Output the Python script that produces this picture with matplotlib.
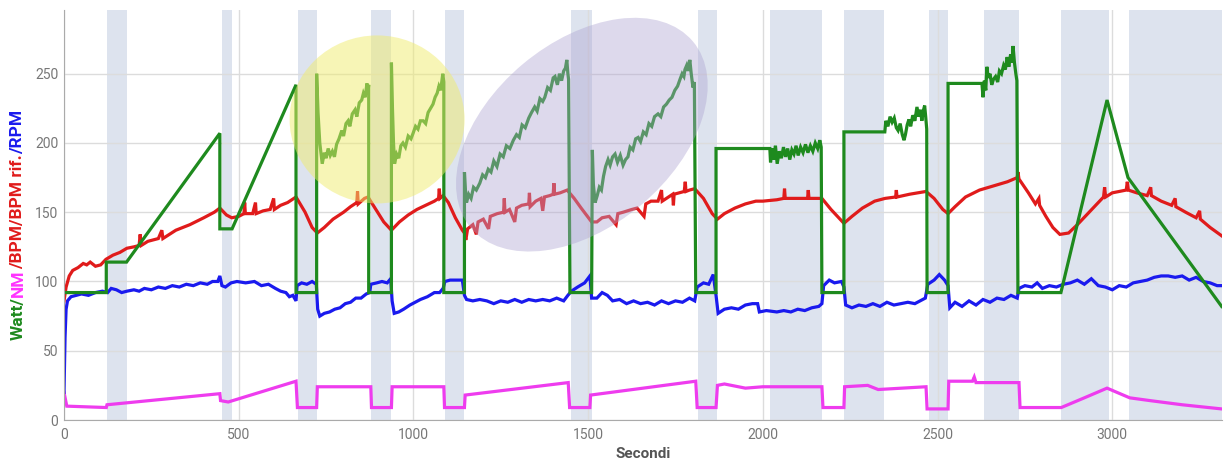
import matplotlib.pyplot as plt
from matplotlib.patches import Ellipse
from matplotlib.transforms import IdentityTransform

# shaded intervals (seconds)
BAND_START = [123, 452, 670, 880, 1089, 1450, 1814, 2020, 2232, 2476, 2633, 2854, 3049]
BAND_END = [180, 481, 725, 937, 1146, 1510, 1868, 2169, 2347, 2530, 2734, 2991, 3320]

# (seconds, value)
WATT = [
    (0, 92), (121, 92), (121, 114), (179, 114), (446, 207), (446, 138), (481, 138),
    (664, 242), (664, 92), (723, 92),
    (723, 250), (727, 222), (732, 200), (739, 185), (745, 193), (750, 189), (756, 196),
    (762, 191), (768, 194), (774, 190), (780, 199), (787, 203), (795, 209), (800, 205),
    (807, 214), (813, 216), (818, 212), (825, 221), (833, 224), (838, 219), (845, 229),
    (852, 231), (857, 236), (862, 233), (867, 243), (870, 237), (872, 242), (872, 92), (937, 92),
    (937, 258), (940, 225), (943, 200), (946, 185), (952, 192), (958, 189), (964, 198),
    (970, 200), (977, 197), (985, 205), (993, 203), (999, 207), (1006, 212), (1013, 210),
    (1020, 216), (1028, 216), (1035, 214), (1042, 222), (1049, 225), (1056, 228), (1062, 233),
    (1068, 236), (1073, 241), (1078, 238), (1084, 250), (1087, 244), (1087, 92), (1146, 92),
    (1146, 179), (1149, 165), (1152, 157), (1158, 163), (1165, 160), (1172, 168), (1180, 166),
    (1190, 171), (1198, 177), (1206, 175), (1214, 181), (1222, 179), (1230, 187), (1239, 183),
    (1248, 192), (1257, 190), (1266, 198), (1276, 196), (1286, 202), (1295, 206), (1303, 204),
    (1311, 213), (1320, 211), (1330, 218), (1338, 222), (1347, 226), (1354, 223), (1362, 232),
    (1370, 230), (1376, 233), (1384, 240), (1392, 238), (1400, 247), (1405, 248), (1412, 242),
    (1418, 250), (1424, 245), (1430, 252), (1435, 254), (1439, 260), (1442, 250), (1444, 246),
    (1448, 92), (1510, 92),
    (1512, 195), (1515, 170), (1520, 157), (1526, 162), (1532, 168), (1538, 166), (1544, 176),
    (1550, 183), (1557, 188), (1563, 184), (1570, 190), (1577, 192), (1584, 186), (1592, 191),
    (1600, 184), (1607, 188), (1614, 190), (1620, 197), (1628, 195), (1636, 203), (1643, 204),
    (1650, 201), (1658, 208), (1666, 206), (1674, 214), (1682, 212), (1690, 219), (1700, 221),
    (1708, 219), (1716, 226), (1724, 228), (1732, 231), (1740, 233), (1748, 238), (1756, 241),
    (1763, 246), (1769, 250), (1774, 248), (1777, 253), (1782, 256), (1786, 252), (1791, 260),
    (1795, 250), (1800, 240), (1804, 244), (1808, 92), (1866, 92),
    (1866, 196), (2020, 196), (2022, 186), (2026, 196), (2031, 188), (2036, 198), (2041, 185),
    (2047, 194), (2053, 189), (2059, 197), (2065, 190), (2071, 196), (2077, 188), (2083, 195),
    (2089, 192), (2095, 198), (2101, 191), (2108, 197), (2115, 193), (2122, 199), (2129, 193),
    (2136, 198), (2143, 194), (2150, 200), (2157, 196), (2163, 202), (2167, 197), (2169, 92),
    (2232, 92),
    (2232, 208), (2349, 208), (2352, 216), (2358, 212), (2364, 219), (2370, 215), (2376, 218),
    (2382, 211), (2387, 209), (2393, 214), (2399, 206), (2404, 202), (2408, 206), (2413, 213),
    (2418, 217), (2423, 212), (2429, 220), (2435, 216), (2441, 226), (2446, 219), (2451, 224),
    (2455, 216), (2459, 223), (2463, 227), (2466, 219), (2469, 210), (2470, 92), (2530, 92),
    (2530, 243), (2627, 243), (2630, 233), (2634, 245), (2638, 238), (2641, 255), (2645, 247),
    (2650, 250), (2655, 242), (2660, 246), (2666, 248), (2672, 244), (2677, 252), (2683, 250),
    (2689, 256), (2694, 253), (2699, 262), (2704, 255), (2709, 264), (2713, 258), (2716, 270),
    (2720, 258), (2724, 250), (2727, 245), (2730, 92), (2853, 92),
    (2985, 231), (3045, 175), (3313, 82),
]

BPM = [
    (0, 86), (6, 96), (15, 104), (25, 108), (40, 110), (55, 113), (65, 112), (75, 114),
    (90, 111), (105, 112), (120, 116), (140, 119), (160, 121), (180, 124), (200, 125),
    (215, 126), (218, 134), (221, 126), (240, 129), (270, 131), (280, 137), (283, 131),
    (320, 137), (360, 141), (400, 146), (430, 150), (446, 153), (465, 148), (480, 146),
    (500, 147), (515, 149), (517, 157), (519, 149), (540, 149), (548, 157), (550, 149),
    (570, 151), (590, 152), (600, 160), (602, 152), (620, 155), (640, 157), (664, 161),
    (690, 150), (710, 139), (725, 135), (745, 139), (770, 145), (800, 150), (820, 154),
    (838, 157), (840, 165), (842, 156), (860, 160), (870, 161), (890, 153), (915, 143),
    (937, 137), (960, 143), (985, 148), (1010, 152), (1035, 155), (1060, 158), (1072, 160),
    (1074, 167), (1076, 160), (1085, 162), (1100, 157), (1120, 146), (1140, 137), (1146, 135),
    (1150, 130), (1155, 138), (1170, 141), (1180, 134), (1185, 143), (1200, 145), (1215, 138),
    (1220, 147), (1240, 149), (1258, 150), (1260, 160), (1262, 150), (1275, 152), (1290, 143),
    (1295, 153), (1310, 155), (1330, 156), (1332, 164), (1334, 154), (1350, 158), (1365, 160),
    (1370, 151), (1375, 161), (1390, 162), (1400, 163), (1402, 171), (1404, 163), (1420, 164),
    (1440, 166), (1460, 160), (1480, 153), (1510, 143), (1525, 143), (1540, 146), (1560, 147),
    (1580, 141), (1585, 149), (1600, 150), (1625, 152), (1640, 153), (1660, 147), (1665, 156),
    (1680, 158), (1700, 158), (1710, 166), (1712, 158), (1730, 161), (1742, 163), (1744, 155),
    (1746, 163), (1760, 164), (1775, 165), (1778, 172), (1780, 165), (1790, 166), (1805, 167),
    (1830, 160), (1855, 149), (1870, 145), (1890, 149), (1920, 153), (1950, 156), (1980, 158),
    (2000, 158), (2040, 159), (2060, 160), (2062, 167), (2064, 160), (2100, 160), (2128, 160),
    (2130, 166), (2132, 160), (2169, 160), (2195, 152), (2232, 142), (2255, 147), (2285, 153),
    (2320, 158), (2350, 160), (2380, 161), (2382, 166), (2384, 161), (2420, 163), (2467, 165),
    (2490, 160), (2515, 152), (2530, 149), (2550, 154), (2580, 161), (2620, 166), (2660, 169),
    (2700, 172), (2728, 175), (2730, 179), (2733, 174), (2760, 164), (2780, 156), (2790, 160),
    (2792, 155), (2810, 147), (2830, 139), (2850, 134), (2875, 135), (2900, 141), (2930, 149),
    (2960, 157), (2975, 161), (2978, 168), (2981, 161), (3000, 164), (3020, 165), (3040, 166),
    (3043, 172), (3046, 166), (3070, 164), (3100, 162), (3110, 168), (3112, 162), (3140, 158),
    (3170, 155), (3180, 160), (3182, 154), (3210, 150), (3240, 146), (3250, 151), (3252, 145),
    (3280, 139), (3313, 133),
]

RPM = [
    (0, 20), (3, 60), (6, 80), (10, 86), (20, 89), (35, 90), (50, 91), (70, 90), (90, 92),
    (110, 93), (125, 92), (135, 95), (150, 94), (165, 92), (180, 93), (200, 94), (215, 93),
    (230, 95), (250, 94), (270, 96), (290, 95), (310, 97), (330, 96), (350, 98), (370, 97),
    (390, 99), (410, 98), (425, 100), (440, 100), (446, 104), (452, 97), (462, 96), (478, 99),
    (495, 100), (520, 99), (545, 100), (565, 97), (585, 98), (605, 95), (620, 93), (635, 92),
    (645, 89), (655, 90), (664, 86), (667, 97), (680, 99), (695, 98), (710, 100), (722, 98),
    (726, 80), (732, 75), (745, 77), (760, 78), (775, 80), (790, 81), (805, 84), (820, 85),
    (835, 88), (850, 88), (865, 91), (875, 92), (878, 98), (895, 99), (910, 100), (925, 99),
    (935, 102), (939, 86), (945, 77), (958, 78), (972, 80), (990, 83), (1005, 85), (1020, 87),
    (1040, 89), (1060, 92), (1075, 92), (1085, 95), (1090, 100), (1105, 101), (1125, 101),
    (1140, 101), (1146, 90), (1152, 87), (1170, 86), (1190, 87), (1210, 86), (1230, 84),
    (1250, 86), (1270, 85), (1290, 87), (1310, 85), (1330, 87), (1350, 86), (1370, 87),
    (1390, 86), (1410, 88), (1430, 86), (1442, 90), (1452, 93), (1470, 96), (1490, 99),
    (1505, 104), (1510, 88), (1525, 88), (1540, 92), (1555, 90), (1570, 86), (1590, 87),
    (1610, 84), (1630, 86), (1650, 84), (1670, 85), (1690, 83), (1710, 86), (1730, 84),
    (1750, 86), (1770, 85), (1790, 88), (1805, 86), (1812, 96), (1830, 99), (1845, 98),
    (1858, 105), (1866, 90), (1872, 77), (1890, 80), (1910, 81), (1930, 80), (1950, 83),
    (1970, 84), (1985, 84), (1990, 78), (2010, 79), (2040, 78), (2060, 79), (2080, 78),
    (2100, 80), (2120, 79), (2140, 81), (2160, 82), (2169, 84), (2174, 97), (2190, 101),
    (2205, 99), (2225, 100), (2232, 96), (2237, 83), (2255, 81), (2275, 83), (2295, 82),
    (2315, 84), (2335, 82), (2355, 85), (2375, 83), (2395, 84), (2415, 85), (2435, 84),
    (2450, 86), (2465, 88), (2472, 98), (2490, 101), (2505, 105), (2520, 101), (2530, 97),
    (2535, 81), (2550, 85), (2570, 82), (2590, 86), (2610, 83), (2630, 87), (2650, 85),
    (2670, 88), (2690, 87), (2710, 90), (2728, 88), (2733, 95), (2750, 97), (2770, 96),
    (2785, 99), (2800, 95), (2820, 97), (2840, 96), (2860, 98), (2880, 99), (2900, 101),
    (2920, 98), (2940, 102), (2960, 97), (2980, 96), (3000, 94), (3020, 97), (3040, 96),
    (3060, 99), (3080, 100), (3100, 101), (3120, 103), (3140, 104), (3160, 104), (3180, 103),
    (3200, 104), (3220, 101), (3240, 103), (3260, 100), (3280, 99), (3300, 97), (3313, 97),
]

NM = [
    (0, 20), (8, 10), (121, 9), (123, 11), (446, 19), (448, 14), (470, 13), (664, 28),
    (668, 9), (723, 9), (725, 24), (878, 24), (880, 9), (937, 9), (939, 24), (1087, 24),
    (1089, 9), (1146, 9), (1148, 18), (1443, 27), (1447, 9), (1505, 9), (1507, 18),
    (1808, 28), (1812, 9), (1866, 9), (1870, 25), (1890, 26), (1950, 23), (2000, 24),
    (2169, 24), (2172, 9), (2232, 9), (2234, 24), (2300, 25), (2330, 22), (2467, 24),
    (2470, 8), (2530, 8), (2532, 28), (2600, 28), (2605, 31), (2610, 27), (2733, 27),
    (2736, 9), (2854, 9), (2920, 16), (2985, 23), (3050, 16), (3108, 14), (3200, 11),
    (3313, 8),
]

YLABEL_PARTS = [("Watt/", "#1e8a1e"), ("NM", "#ff33ff"), ("/BPM/BPM rif.", "#e01b1b"),
                ("/RPM", "#1a1aee")]

fig = plt.figure(figsize=(12.25, 4.61), dpi=100)
ax = fig.add_axes([64 / 1225, 41 / 461, 1158 / 1225, 410 / 461])
ax.set_xlim(0, 3314)
ax.set_ylim(0, 296)

for s, e in zip(BAND_START, BAND_END):
    ax.axvspan(s, e, color="#dde3ee", lw=0, zorder=0.2)

ax.set_axisbelow(True)
ax.grid(True, color="#dcdcdc", lw=1)
ax.set_xticks(range(0, 3001, 500))
ax.set_yticks(range(0, 251, 50))
ax.tick_params(length=0, labelsize=10, colors="#777777")
ax.tick_params(axis="x", pad=6)
ax.tick_params(axis="y", pad=4)
for lab in ax.get_xticklabels() + ax.get_yticklabels():
    lab.set_family("Roboto")
for side in ("top", "right"):
    ax.spines[side].set_visible(False)
for side in ("left", "bottom"):
    ax.spines[side].set_color("#aaaaaa")

series = [(NM, "#ee3cee"), (RPM, "#1a1aee"), (BPM, "#e01b1b"), (WATT, "#1e8a1e")]
for pts, col in series:
    t, v = zip(*pts)
    ax.plot(t, v, color=col, lw=2.3, solid_joinstyle="miter", zorder=2)

ax.set_xlabel("Secondi", fontsize=11, fontweight="bold", color="#555555",
              family="Roboto", labelpad=3)

# highlight ellipses (sized in pixels)
cx, cy = ax.transData.transform((896, 217))
ax.add_patch(Ellipse((cx, cy), 175, 168, angle=0, transform=IdentityTransform(),
                     facecolor="#f0ec6e", alpha=0.5, lw=0, zorder=3))
cx, cy = ax.transData.transform((1482, 206))
ax.add_patch(Ellipse((cx, cy), 290, 184, angle=40, transform=IdentityTransform(),
                     facecolor="#afa5d2", alpha=0.42, lw=0, zorder=3))

# multi-coloured y label
fig.canvas.draw()
renderer = fig.canvas.get_renderer()
texts = []
for txt, col in YLABEL_PARTS:
    texts.append(fig.text(18 / 1225, 0, txt, rotation=90, color=col, fontsize=12.5,
                          fontweight="bold", family="Roboto", ha="center", va="bottom"))
heights = [t.get_window_extent(renderer).height / fig.bbox.height for t in texts]
y = 0.512 - sum(heights) / 2
for t, h in zip(texts, heights):
    t.set_y(y)
    y += h

fig.savefig("out.png", dpi=100)
